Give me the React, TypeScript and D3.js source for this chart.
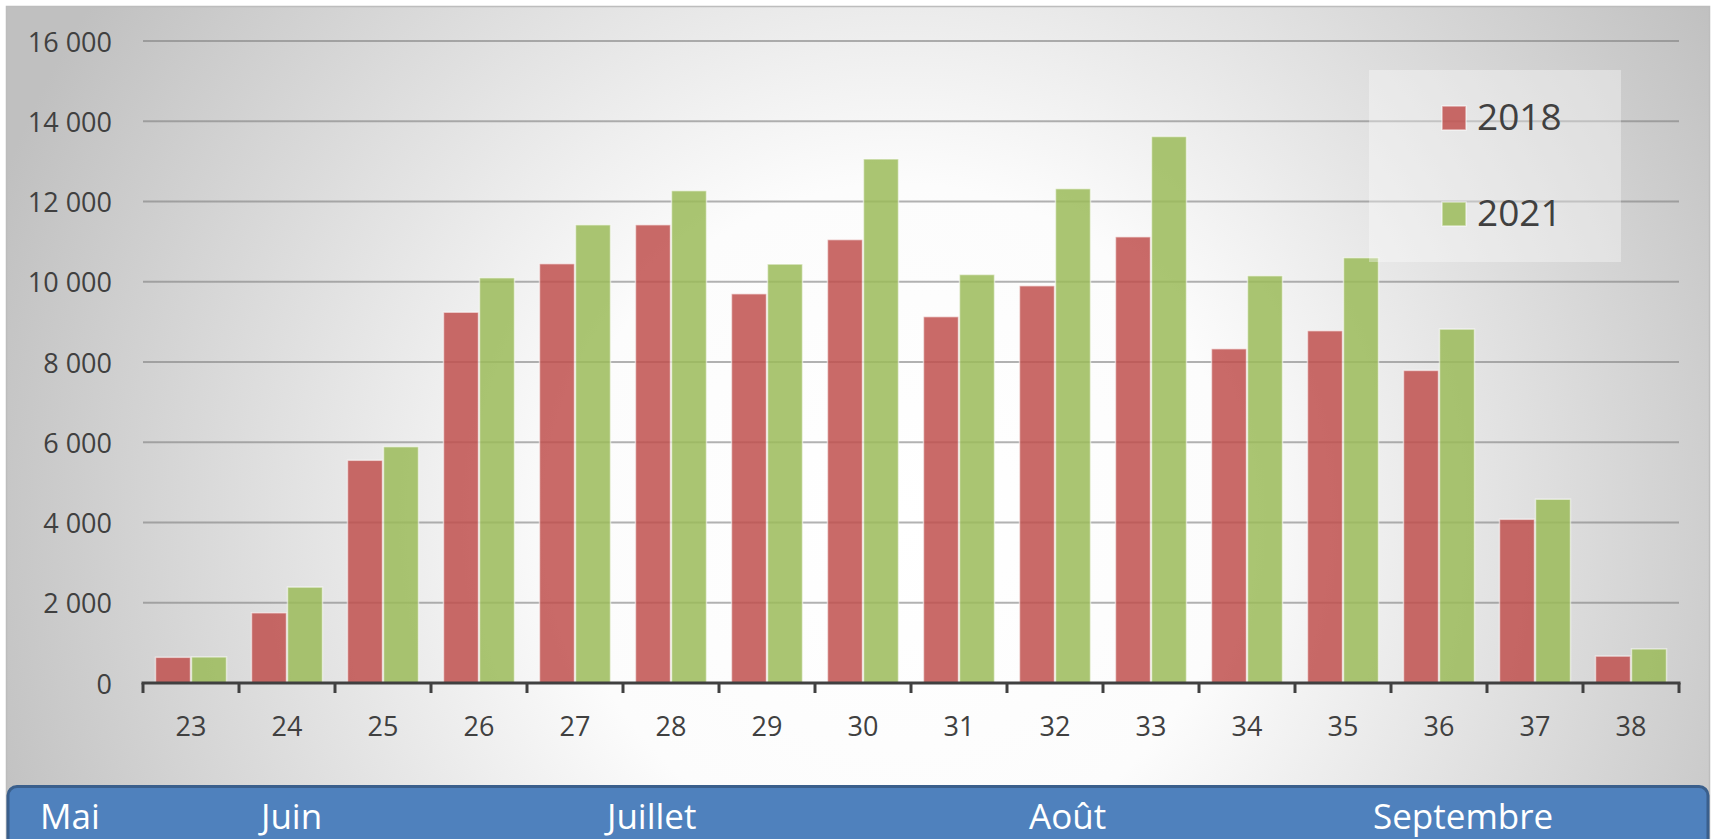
import React from "react";
import * as d3 from "d3";

const categories = ["23","24","25","26","27","28","29","30","31","32","33","34","35","36","37","38"];
const seriesNames = ["2018", "2021"];
const values2018 = [640, 1750, 5550, 9240, 10450, 11420, 9700, 11050, 9130, 9900, 11120, 8330, 8780, 7790, 4080, 670];
const values2021 = [650, 2390, 5890, 10100, 11420, 12270, 10440, 13060, 10180, 12320, 13620, 10150, 10600, 8820, 4580, 850];
const yTicks = [0, 2000, 4000, 6000, 8000, 10000, 12000, 14000, 16000];
const months = ["Mai", "Juin", "Juillet", "Août", "Septembre"];
const monthX = [40, 261, 607, 1029, 1373];

const W = 1711;
const H = 839;
const FONT = "'Open Sans', 'Noto Sans', sans-serif";
const colors = ["#c0504d", "#9bbb59"];

export default function App() {
  const x = d3.scaleBand<string>().domain(categories).range([143, 1679]).paddingInner(0).paddingOuter(0);
  const xs = d3.scaleBand<string>().domain(seriesNames).range([12, 84]).padding(0);
  const y = d3.scaleLinear().domain([0, 16000]).range([683, 41]);
  const data = [values2018, values2021];
  const fmt = (v: number) => d3.format(",")(v).replace(/,/g, " ");
  const tickPositions = d3.range(categories.length + 1).map((i) => 143 + i * x.bandwidth());

  return (
    <svg width={W} height={H} style={{ position: "fixed", left: 0, top: 0, display: "block" }}>
      <defs>
        <radialGradient id="bg" gradientUnits="userSpaceOnUse" cx={900} cy={520} r={960}>
          <stop offset="0" stopColor="#ffffff" />
          <stop offset="0.35" stopColor="#fcfcfc" />
          <stop offset="1" stopColor="#c0c0c0" />
        </radialGradient>
      </defs>
      <rect x={0} y={0} width={W} height={H} fill="#ffffff" />
      <rect x={6.5} y={6.5} width={1703} height={H} fill="url(#bg)" stroke="#bdbdbd" strokeWidth={1.5} />

      {/* gridlines */}
      {yTicks.filter((t) => t > 0).map((t) => (
        <line key={t} x1={143} x2={1679} y1={y(t)} y2={y(t)} stroke="#7f7f7f" strokeOpacity={0.6} strokeWidth={1.8} />
      ))}

      {/* y labels */}
      {yTicks.map((t) => (
        <text key={t} x={112} y={y(t)} textAnchor="end" dominantBaseline="central" fontFamily={FONT} fontSize={27} fill="#404040">
          {fmt(t)}
        </text>
      ))}

      {/* bars */}
      {categories.map((c, i) => (
        <g key={c} transform={`translate(${x(c)},0)`}>
          {seriesNames.map((s, j) => (
            <rect
              key={s}
              x={(xs(s) as number) + 0.5}
              y={y(data[j][i])}
              width={xs.bandwidth() - 1}
              height={y(0) - y(data[j][i])}
              fill={colors[j]}
              fillOpacity={0.85}
              stroke="#ffffff"
              strokeOpacity={0.55}
              strokeWidth={1.5}
            />
          ))}
        </g>
      ))}

      {/* x axis */}
      <line x1={141.5} x2={1680.5} y1={683} y2={683} stroke="#404040" strokeWidth={3} />
      {tickPositions.map((p, i) => (
        <line key={i} x1={p} x2={p} y1={683} y2={693} stroke="#404040" strokeWidth={3} />
      ))}
      {categories.map((c) => (
        <text key={c} x={(x(c) as number) + x.bandwidth() / 2} y={725} textAnchor="middle" dominantBaseline="central" fontFamily={FONT} fontSize={27} fill="#404040">
          {c}
        </text>
      ))}

      {/* legend */}
      <rect x={1369} y={70} width={252} height={192} fill="#ffffff" fillOpacity={0.35} />
      {seriesNames.map((s, j) => (
        <g key={s}>
          <rect x={1442} y={106 + j * 96} width={24} height={24} fill={colors[j]} fillOpacity={0.85} stroke="#ffffff" strokeOpacity={0.55} strokeWidth={1.5} />
          <text x={1477} y={130 + j * 96} fontFamily={FONT} fontSize={37} fill="#404040">
            {s}
          </text>
        </g>
      ))}

      {/* month band */}
      <rect x={8} y={786.5} width={1700} height={80} rx={9} ry={9} fill="#4f81bd" stroke="#3a5f8c" strokeWidth={3} />
      {months.map((m, i) => (
        <text key={m} x={monthX[i]} y={829} fontFamily={FONT} fontSize={35} fill="#ffffff">
          {m}
        </text>
      ))}
    </svg>
  );
}
